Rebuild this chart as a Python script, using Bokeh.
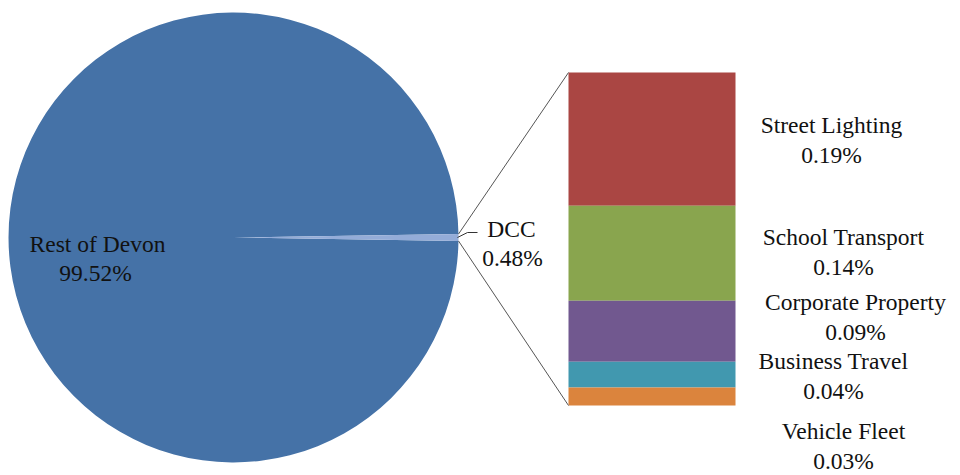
import math
from bokeh.plotting import figure
from bokeh.models import Range1d, ColumnDataSource
from bokeh.core.properties import value
from bokeh.embed import file_html
from bokeh.resources import INLINE

# ---- data ----
pie_labels = ["Rest of Devon", "DCC"]
pie_values = [99.52, 0.48]
bar_labels = ["Street Lighting", "School Transport", "Corporate Property", "Business Travel", "Vehicle Fleet"]
bar_values = [0.192, 0.137, 0.088, 0.037, 0.026]

# ---- styles / layout ----
FONT = value("Liberation Serif")
FS = "23.5px"
pie_colors = ["#4572A7", "#94ACD8"]
bar_colors = ["#AA4643", "#89A54E", "#71588F", "#4198AF", "#DB843D"]
W, H = 960, 475
cx, cy, R = 233, H - 237, 225
bar_left, bar_right = 568, 735
bar_bottom_px, bar_top_px = 405, 72
label_x = [831, 843, 855, 833, 843]
label_dy = [2, 0, -13, 2, 51]   # pixel nudges (down positive)

p = figure(width=W, height=H, x_range=Range1d(0, W), y_range=Range1d(0, H),
           output_backend="svg", toolbar_location=None, min_border=0,
           x_axis_location=None, y_axis_location=None)
p.grid.visible = False
p.outline_line_color = None
p.background_fill_color = "white"
p.border_fill_color = "white"

# bar y range so that the stack total spans the bar height
total = sum(bar_values)
ppu = (bar_bottom_px - bar_top_px) / total
start = -(H - bar_bottom_px) / ppu
p.extra_y_ranges = {"bar": Range1d(start, start + H / ppu)}

# ---- pie ----
tot = sum(pie_values)
half = pie_values[1] / tot * math.pi
p.wedge(x=cx, y=cy, radius=R, start_angle=half, end_angle=2 * math.pi - half,
        direction="anticlock", fill_color=pie_colors[0], line_color=None)
p.wedge(x=cx, y=cy, radius=R, start_angle=-half, end_angle=half,
        direction="anticlock", fill_color=pie_colors[1], line_color=None)

# ---- stacked bar ----
tops, bottoms = [], []
acc = total
for v in bar_values:
    tops.append(acc)
    bottoms.append(acc - v)
    acc -= v
src = ColumnDataSource(dict(top=tops, bottom=bottoms, color=bar_colors,
                            mid=[(a + b) / 2 for a, b in zip(tops, bottoms)]))
p.quad(left=bar_left, right=bar_right, top="top", bottom="bottom",
       fill_color="color", line_color=None, source=src, y_range_name="bar")

# ---- connector lines ----
ex = cx + R * math.cos(half)
ey_top = cy + R * math.sin(half)
ey_bot = cy - R * math.sin(half)
p.line([ex, bar_left], [ey_top, H - bar_top_px], line_color="#555555", line_width=1)
p.line([ex, bar_left], [ey_bot, H - bar_bottom_px], line_color="#555555", line_width=1)
# leader line for DCC label
p.line([ex - 1, 467, 477], [cy, H - 232, H - 232], line_color="#333333", line_width=1)

# ---- labels ----
def fmt(v):
    return f"{v:.2f}%"

p.text(x=[97], y=[H - 243], text=[pie_labels[0]], text_font=FONT, text_font_size=FS,
       text_align="center", text_baseline="middle", text_color="#111111")
p.text(x=[95], y=[H - 272], text=[fmt(pie_values[0])], text_font=FONT, text_font_size=FS,
       text_align="center", text_baseline="middle", text_color="#111111")
p.text(x=[511], y=[H - 228], text=[pie_labels[1]], text_font=FONT, text_font_size=FS,
       text_align="center", text_baseline="middle", text_color="#111111")
p.text(x=[512], y=[H - 257], text=[fmt(pie_values[1])], text_font=FONT, text_font_size=FS,
       text_align="center", text_baseline="middle", text_color="#111111")

for i, (lab, v) in enumerate(zip(bar_labels, bar_values)):
    mid = src.data["mid"][i]
    p.text(x=[label_x[i]], y=[mid], text=[lab], y_offset=label_dy[i] - 16,
           text_font=FONT, text_font_size=FS, text_align="center", text_baseline="middle",
           text_color="#111111", y_range_name="bar")
    p.text(x=[label_x[i]], y=[mid], text=[fmt(v)], y_offset=label_dy[i] + 14,
           text_font=FONT, text_font_size=FS, text_align="center", text_baseline="middle",
           text_color="#111111", y_range_name="bar")

open("out.html", "w").write(file_html(p, INLINE))
